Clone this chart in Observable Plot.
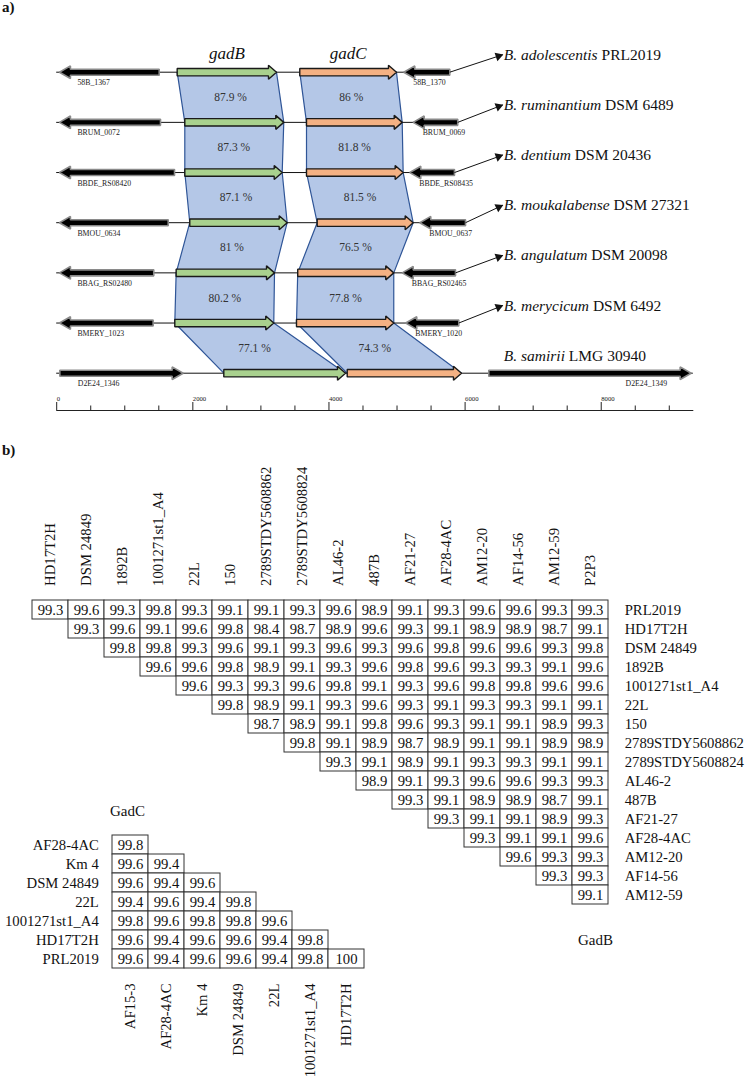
<!DOCTYPE html>
<html><head><meta charset="utf-8">
<script src="https://cdn.jsdelivr.net/npm/d3@7"></script>
<script src="https://cdn.jsdelivr.net/npm/@observablehq/plot@0.6"></script>
<style>
body{margin:0;background:#fff;}
#fig{position:relative;width:749px;height:1079px;font-family:"Liberation Serif","Times New Roman",serif;color:#111;overflow:hidden;background:#fff}
#fig svg{position:absolute;left:0;}
.lbl{position:absolute;white-space:nowrap;line-height:1}
</style></head>
<body><div id="fig"></div>
<script>
// ---------- Panel a data ----------
const strains = ["B. adolescentis PRL2019","B. ruminantium DSM 6489","B. dentium DSM 20436","B. moukalabense DSM 27321","B. angulatum DSM 20098","B. merycicum DSM 6492","B. samirii LMG 30940"];
const leftGeneLabel = ["58B_1367","BRUM_0072","BBDE_RS08420","BMOU_0634","BBAG_RS02480","BMERY_1023","D2E24_1346"];
const rightGeneLabel = ["58B_1370","BRUM_0069","BBDE_RS08435","BMOU_0637","BBAG_RS02465","BMERY_1020","D2E24_1349"];
const leftStart  = [40,40,40,40,40,40,46];
const leftEnd    = [1506,1525,1731,1638,1426,1417,1858];
const leftStrand = [-1,-1,-1,-1,-1,-1,1];
const gadBStart  = [1770,1882,1882,1955,1755,1735,2455];
const gadBEnd    = [3229,3336,3313,3386,3200,3189,4243];
const gadCStart  = [3571,3670,3670,3827,3541,3523,4268];
const gadCEnd    = [4992,5076,5090,5237,4952,4952,5947];
const rightStart = [5099,5237,5187,5334,5076,5128,6348];
const rightEnd   = [5775,5892,5844,6006,5859,5907,9321];
const rightStrand= [-1,-1,-1,-1,-1,-1,1];
const contigEnd  = [5775,5892,5844,6006,5859,5907,9353];
const gadBIdentity = [87.9,87.3,87.1,81,80.2,77.1];
const gadCIdentity = [86,81.8,81.5,76.5,77.8,74.3];
const scaleTicks = [0,500,1000,1500,2000,2500,3000,3500,4000,4500,5000,5500,6000,6500,7000,7500,8000,8500,9000];
const scaleLabels = [0,2000,4000,6000,8000];

// ---------- Panel b data ----------
const gadBCols = ["HD17T2H","DSM 24849","1892B","1001271st1_A4","22L","150","2789STDY5608862","2789STDY5608824","AL46-2","487B","AF21-27","AF28-4AC","AM12-20","AF14-56","AM12-59","P2P3"];
const gadBRows = ["PRL2019","HD17T2H","DSM 24849","1892B","1001271st1_A4","22L","150","2789STDY5608862","2789STDY5608824","AL46-2","487B","AF21-27","AF28-4AC","AM12-20","AF14-56","AM12-59"];
const gadBValues = [
  [99.3,99.6,99.3,99.8,99.3,99.1,99.1,99.3,99.6,98.9,99.1,99.3,99.6,99.6,99.3,99.3],
  [99.3,99.6,99.1,99.6,99.8,98.4,98.7,98.9,99.6,99.3,99.1,98.9,98.9,98.7,99.1],
  [99.8,99.8,99.3,99.6,99.1,99.3,99.6,99.3,99.6,99.8,99.6,99.6,99.3,99.8],
  [99.6,99.6,99.8,98.9,99.1,99.3,99.6,99.8,99.6,99.3,99.3,99.1,99.6],
  [99.6,99.3,99.3,99.6,99.8,99.1,99.3,99.6,99.8,99.8,99.6,99.6],
  [99.8,98.9,99.1,99.3,99.6,99.3,99.1,99.3,99.3,99.1,99.1],
  [98.7,98.9,99.1,99.8,99.6,99.3,99.1,99.1,98.9,99.3],
  [99.8,99.1,98.9,98.7,98.9,99.1,99.1,98.9,98.9],
  [99.3,99.1,98.9,99.1,99.3,99.3,99.1,99.1],
  [98.9,99.1,99.3,99.6,99.6,99.3,99.3],
  [99.3,99.1,98.9,98.9,98.7,99.1],
  [99.3,99.1,99.1,98.9,99.3],
  [99.3,99.1,99.1,99.6],
  [99.6,99.3,99.3],
  [99.3,99.3],
  [99.1]
];
const gadCCols = ["AF15-3","AF28-4AC","Km 4","DSM 24849","22L","1001271st1_A4","HD17T2H"];
const gadCRows = ["AF28-4AC","Km 4","DSM 24849","22L","1001271st1_A4","HD17T2H","PRL2019"];
const gadCValues = [
  [99.8],
  [99.6,99.4],
  [99.6,99.4,99.6],
  [99.4,99.6,99.4,99.8],
  [99.8,99.6,99.8,99.8,99.6],
  [99.6,99.4,99.6,99.6,99.4,99.8],
  [99.6,99.4,99.6,99.6,99.4,99.8,100]
];

// ---------- layout ----------
const SERIF = '"Liberation Serif","Times New Roman",serif';
const fig = document.getElementById("fig");
const X0 = 56.2, X1 = 693.3, XMAX = 9360;
const TY0 = 71.7, TY1 = 372.7;
const kx = (X1 - X0) / XMAX, ky = (TY1 - TY0) / 6;
const bp = px => px / kx, tu = px => px / ky;
const tracks = strains.map((s, i) => i);

function arrowPts(out, id, t, s, e, strand, body, head, hlen) {
  const bh = tu(body), hh = tu(head);
  const hl = Math.min(bp(hlen), (e - s) * 0.5);
  const pts = strand > 0
    ? [[s,t-bh],[e-hl,t-bh],[e-hl,t-hh],[e,t],[e-hl,t+hh],[e-hl,t+bh],[s,t+bh]]
    : [[e,t-bh],[s+hl,t-bh],[s+hl,t-hh],[s,t],[s+hl,t+hh],[s+hl,t+bh],[e,t+bh]];
  for (const [x, y] of pts) out.push({id, x, y});
}
const flankPts = [], bPts = [], cPts = [];
tracks.forEach(t => {
  arrowPts(flankPts, "L" + t, t, leftStart[t], leftEnd[t], leftStrand[t], 3, 6.3, 11);
  arrowPts(flankPts, "R" + t, t, rightStart[t], rightEnd[t], rightStrand[t], 3, 6.3, 11);
  arrowPts(bPts, "B" + t, t, gadBStart[t], gadBEnd[t], 1, 3.7, 7, 8);
  arrowPts(cPts, "C" + t, t, gadCStart[t], gadCEnd[t], 1, 3.7, 7, 8);
});
const shadePts = [], pctLabels = [];
for (let i = 0; i < 6; i++) {
  for (const [g, S, E, V] of [["b", gadBStart, gadBEnd, gadBIdentity], ["c", gadCStart, gadCEnd, gadCIdentity]]) {
    const id = g + i;
    shadePts.push({id, x: S[i], y: i}, {id, x: E[i], y: i}, {id, x: E[i+1], y: i+1}, {id, x: S[i+1], y: i+1});
    pctLabels.push({x: (S[i] + E[i] + S[i+1] + E[i+1]) / 4, y: i + 0.5, text: V[i] + " %"});
  }
}
const LABEL_X = bp(503.3 - X0);
const LABEL_DY = -17.5;
const pointers = tracks.slice(0, 6).map(t => {
  const x2 = LABEL_X - bp(1), y2 = t + tu(LABEL_DY);
  const dxp = (x2 - rightEnd[t]) * kx, dyp = LABEL_DY;
  const len = Math.hypot(dxp, dyp), ux = dxp / len, uy = dyp / len;
  return {x1: rightEnd[t], y1: t, x2, y2,
          dx: x2 - bp(4.6 * ux), dy: y2 - tu(4.6 * uy),
          rot: Math.atan2(dyp, dxp) * 180 / Math.PI + 90};
});
const axisY = 6 + tu(37.3);
const backbone = tracks.map(t => ({t, x2: contigEnd[t]}));
const ticksData = scaleTicks.map(v => ({v, major: scaleLabels.includes(v)}));

const svgA = Plot.plot({
  width: 749, height: 420,
  marginLeft: X0, marginRight: 749 - X1, marginTop: 0, marginBottom: 0,
  x: {domain: [0, XMAX], axis: null},
  y: {domain: [0, 6], range: [TY0, TY1], axis: null},
  style: {fontFamily: SERIF, background: "transparent", color: "#111", overflow: "visible"},
  marks: [
    Plot.line(shadePts, {x: "x", y: "y", z: "id", curve: "linear-closed", fill: "#b4c7e7", stroke: "#2f5597", strokeWidth: 1.2, strokeLinejoin: "miter"}),
    Plot.ruleY(backbone, {y: "t", x1: () => 0, x2: "x2", stroke: "#111", strokeWidth: 1}),
    Plot.line(flankPts, {x: "x", y: "y", z: "id", curve: "linear-closed", fill: "#000", stroke: "#8a8a8a", strokeWidth: 1.6, strokeLinejoin: "miter"}),
    Plot.line(bPts, {x: "x", y: "y", z: "id", curve: "linear-closed", fill: "#a9d18e", stroke: "#1a1a1a", strokeWidth: 1.4, strokeLinejoin: "miter"}),
    Plot.line(cPts, {x: "x", y: "y", z: "id", curve: "linear-closed", fill: "#f4b183", stroke: "#1a1a1a", strokeWidth: 1.4, strokeLinejoin: "miter"}),
    Plot.text(pctLabels, {x: "x", y: "y", text: "text", fontSize: 11.5, fill: "#333"}),
    Plot.text(tracks, {x: t => leftStart[t], y: t => t, text: t => leftGeneLabel[t], dx: 18, dy: 10.6, textAnchor: "start", fontSize: 7.8, fill: "#222"}),
    Plot.text(tracks.slice(0, 6), {x: t => rightStart[t], y: t => t, text: t => rightGeneLabel[t], dx: 9.5, dy: 10.6, textAnchor: "start", fontSize: 7.8, fill: "#222"}),
    Plot.text([6], {x: t => rightEnd[t], y: t => t, text: t => rightGeneLabel[t], dx: -24, dy: 10.3, textAnchor: "end", fontSize: 7.8, fill: "#222"}),
    Plot.link(pointers, {x1: "x1", y1: "y1", x2: "x2", y2: "y2", stroke: "#111", strokeWidth: 1}),
    Plot.dot(pointers, {x: "dx", y: "dy", rotate: "rot", symbol: "triangle", r: 3.3, fill: "#111", stroke: "none"}),
    Plot.text(tracks, {x: () => LABEL_X, y: t => t, text: t => strains[t], dy: LABEL_DY, textAnchor: "start", fontSize: 15.5, fill: "#111"}),
    Plot.text([["gadB", gadBStart, gadBEnd], ["gadC", gadCStart, gadCEnd]], {x: d => (d[1][0] + d[2][0]) / 2, y: () => 0, text: d => d[0], dy: -18.5, fontSize: 17, fontStyle: "italic", fill: "#111"}),
    Plot.ruleY([{y: axisY, x1: 0, x2: XMAX}], {y: "y", x1: "x1", x2: "x2", stroke: "#222", strokeWidth: 1.2}),
    Plot.ruleX(ticksData, {x: "v", y1: d => axisY - tu(d.major ? 8 : 4.5), y2: () => axisY, stroke: "#222", strokeWidth: 1}),
    Plot.text(scaleLabels, {x: d => d, y: () => axisY, text: d => String(d), dy: -11.7, textAnchor: "start", fontSize: 6.7, fill: "#222"})
  ]
});
svgA.style.top = "0px";
d3.select(svgA).selectAll("text").each(function () {
  const s = this.textContent;
  if (strains.includes(s)) {
    const parts = s.split(" ");
    const ital = parts.slice(0, 2).join(" "), rest = parts.slice(2).join(" ");
    this.textContent = "";
    const sel = d3.select(this);
    sel.append("tspan").attr("font-style", "italic").text(ital);
    sel.append("tspan").text(" " + rest);
  }
});
fig.appendChild(svgA);

// ---------- Panel b ----------
const OFF = 420, H = 1079 - OFF;
const bCells = [];
gadBValues.forEach((vals, i) => vals.forEach((v, j) => bCells.push({row: gadBRows[i], col: gadBCols[i + j], v})));
const cCells = [];
gadCValues.forEach((vals, i) => vals.forEach((v, j) => cCells.push({row: gadCRows[i], col: gadCCols[j], v})));

const styleB = {fontFamily: SERIF, fontSize: "14.7px", background: "transparent", color: "#111", overflow: "visible"};
const svgB = Plot.plot({
  width: 749, height: H,
  marginLeft: 29.3, marginRight: 749 - 610.7, marginTop: 598.4 - OFF, marginBottom: H - (905.6 - OFF),
  x: {type: "band", domain: gadBCols, padding: 0, axis: null},
  y: {type: "band", domain: gadBRows, padding: 0, axis: null},
  style: styleB,
  marks: [
    Plot.cell(bCells, {x: "col", y: "row", fill: "white", stroke: "#333", strokeWidth: 1}),
    Plot.text(bCells, {x: "col", y: "row", text: d => String(d.v), fill: "#111"}),
    Plot.axisX({anchor: "top", label: null, tickRotate: -90, tickSize: 0, tickPadding: 13, fill: "#111"}),
    Plot.axisY({anchor: "right", label: null, tickSize: 0, tickPadding: 13.5, fill: "#111"})
  ]
});
svgB.style.top = OFF + "px";
fig.appendChild(svgB);

const svgC = Plot.plot({
  width: 749, height: H,
  marginLeft: 110, marginRight: 749 - 366, marginTop: 833.7 - OFF, marginBottom: H - (969 - OFF),
  x: {type: "band", domain: gadCCols, padding: 0, axis: null},
  y: {type: "band", domain: gadCRows, padding: 0, axis: null},
  style: styleB,
  marks: [
    Plot.cell(cCells, {x: "col", y: "row", fill: "white", stroke: "#333", strokeWidth: 1}),
    Plot.text(cCells, {x: "col", y: "row", text: d => String(d.v), fill: "#111"}),
    Plot.axisX({anchor: "bottom", label: null, tickRotate: -90, tickSize: 0, tickPadding: 14, fill: "#111"}),
    Plot.axisY({anchor: "left", label: null, tickSize: 0, tickPadding: 11.7, fill: "#111"})
  ]
});
svgC.style.top = OFF + "px";
fig.appendChild(svgC);

// ---------- panel letters and matrix titles ----------
function addLabel(text, left, top, size, weight) {
  const d = document.createElement("div");
  d.className = "lbl";
  d.textContent = text;
  d.style.left = left + "px"; d.style.top = top + "px";
  d.style.fontSize = size + "px"; d.style.fontWeight = weight || "normal";
  fig.appendChild(d);
}
addLabel("a)", 2, -0.5, 15, "bold");
addLabel("b)", 2, 442.5, 15, "bold");
addLabel("GadC", 110, 804, 15);
addLabel("GadB", 578, 933, 15);
</script></body></html>
